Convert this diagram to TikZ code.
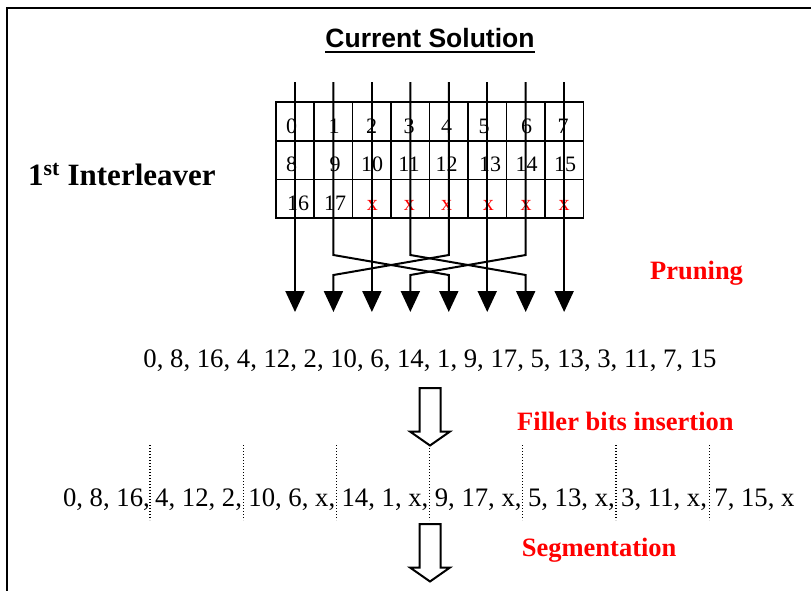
\documentclass[tikz,border=0pt]{standalone}
\usepackage{fontspec}
\setmainfont{Liberation Serif}
\newfontfamily\arialfont{Liberation Sans}
\usetikzlibrary{arrows.meta,calc}
\definecolor{labred}{RGB}{255,0,0}
\begin{document}
\begin{tikzpicture}[x=1pt,y=-1pt,
  txt/.style={inner sep=0pt, anchor=base, font=\fontsize{26.7}{30}\selectfont},
  seg/.style={inner sep=0pt, anchor=base west, font=\fontsize{26.7}{30}\selectfont},
  cell/.style={inner sep=0pt, anchor=base, font=\fontsize{22}{24}\selectfont},
  lbl/.style={inner sep=0pt, anchor=base west, text=labred, font=\fontsize{26.5}{30}\selectfont\bfseries},
  wire/.style={line width=2pt},
  tiparrow/.style={-{Triangle[length=21pt,width=19pt]}},
  gridline/.style={line width=1.6pt},
  hollow/.style={line width=2pt, fill=white, line join=miter},
  dots/.style={line width=1.2pt, dash pattern=on 1.2pt off 1.8pt}]
\useasboundingbox (0,0) rectangle (811,590);
\fill[white] (0,0) rectangle (811,590);
% frame
\draw[line width=2pt] (7,592) -- (7,8) -- (813,8);
% title
\node[inner sep=0pt, anchor=base, font=\arialfont\bfseries\fontsize{26.5}{30}\selectfont] (title) at (430,47.5) {Current Solution};
\draw[line width=2pt] ($(title.base west)+(0,4.5)$) -- ($(title.base east)+(0,4.5)$);
% interleaver label
\node[inner sep=0pt, anchor=base west, font=\fontsize{31}{34}\selectfont\bfseries] (il) at (28,185) {1\textsuperscript{st} Interleaver};
% grid
\draw[gridline] (275.7,101.7) rectangle (583.3,217.7);
\foreach \i in {1,...,7} \draw[gridline] (275.7+38.45*\i,101.7) -- (275.7+38.45*\i,217.7);
\draw[gridline] (275.7,140.7) -- (583.3,140.7);
\draw[gridline] (275.7,179.3) -- (583.3,179.3);
% cell numbers
\node[cell] (c0) at (291.7,133.3) {0};
\node[cell] (c1) at (334,133.3) {1};
\node[cell] (c2) at (371.7,133.3) {2};
\node[cell] (c3) at (409,133.3) {3};
\node[cell] (c4) at (446.7,133.3) {4};
\node[cell] (c5) at (484,133.3) {5};
\node[cell] (c6) at (526.7,133.3) {6};
\node[cell] (c7) at (563,133.3) {7};
\node[cell] (c8) at (291.7,171.7) {8};
\node[cell] (c9) at (335,171.7) {9};
\node[cell] (c10) at (372,171.7) {10};
\node[cell] (c11) at (409,171.7) {11};
\node[cell] (c12) at (446.7,171.7) {12};
\node[cell] (c13) at (490,171.7) {13};
\node[cell] (c14) at (526.7,171.7) {14};
\node[cell] (c15) at (565,171.7) {15};
\node[cell] (c16) at (298,210) {16};
\node[cell] (c17) at (335,210) {17};
\node[cell,text=labred] (x2) at (372.3,210) {x};
\node[cell,text=labred] (x3) at (409.3,210) {x};
\node[cell,text=labred] (x4) at (446.7,210) {x};
\node[cell,text=labred] (x5) at (488.3,210) {x};
\node[cell,text=labred] (x6) at (526,210) {x};
\node[cell,text=labred] (x7) at (564,210) {x};
% wires
\foreach \i in {0,...,7} {
  \coordinate (t\i) at (295+38.45*\i,82);
  \coordinate (u\i) at (295+38.45*\i,255);
  \coordinate (l\i) at (295+38.45*\i,275);
  \coordinate (b\i) at (295+38.45*\i,312);
}
\foreach \i in {0,2,5,7} \draw[wire,tiparrow] (t\i) -- (b\i);
\draw[wire,tiparrow] (t1) -- (u1) -- (l4) -- (b4);
\draw[wire,tiparrow] (t4) -- (u4) -- (l1) -- (b1);
\draw[wire,tiparrow] (t3) -- (u3) -- (l6) -- (b6);
\draw[wire,tiparrow] (t6) -- (u6) -- (l3) -- (b3);
% labels
\node[lbl] (prun) at (650,279.3) {Pruning};
\node[lbl] (fillr) at (517,430) {Filler bits insertion};
\node[lbl] (segm) at (521.7,556.7) {Segmentation};
% sequence 1
\node[txt] (seq1) at (430,367) {0, 8, 16, 4, 12, 2, 10, 6, 14, 1, 9, 17, 5, 13, 3, 11, 7, 15};
% dotted separators
\foreach \i in {0,...,6} \draw[dots] (150+93.2*\i,445) -- (150+93.2*\i,520);
% sequence 2
\node[inner sep=0pt, anchor=base east, font=\fontsize{26.7}{30}\selectfont] (s1) at (150,506) {0, 8, 16,};
\node[seg] (s2) at (155,506) {4, 12, 2,};
\node[seg] (s3) at (248.2,506) {10, 6, x,};
\node[seg] (s4) at (341.4,506) {14, 1, x,};
\node[seg] (s5) at (434.6,506) {9, 17, x,};
\node[seg] (s6) at (527.8,506) {5, 13, x,};
\node[seg] (s7) at (621,506) {3, 11, x,};
\node[seg] (s8) at (714.2,506) {7, 15, x};
% hollow arrows
\foreach \yy/\nm in {388/ha, 524/hb} {
  \draw[hollow] (419.5,\yy) -- (440.5,\yy) -- (440.5,\yy+43.5) -- (450,\yy+43.5) -- (430,\yy+57.5) -- (410,\yy+43.5) -- (419.5,\yy+43.5) -- cycle;
}
\end{tikzpicture}
\end{document}
